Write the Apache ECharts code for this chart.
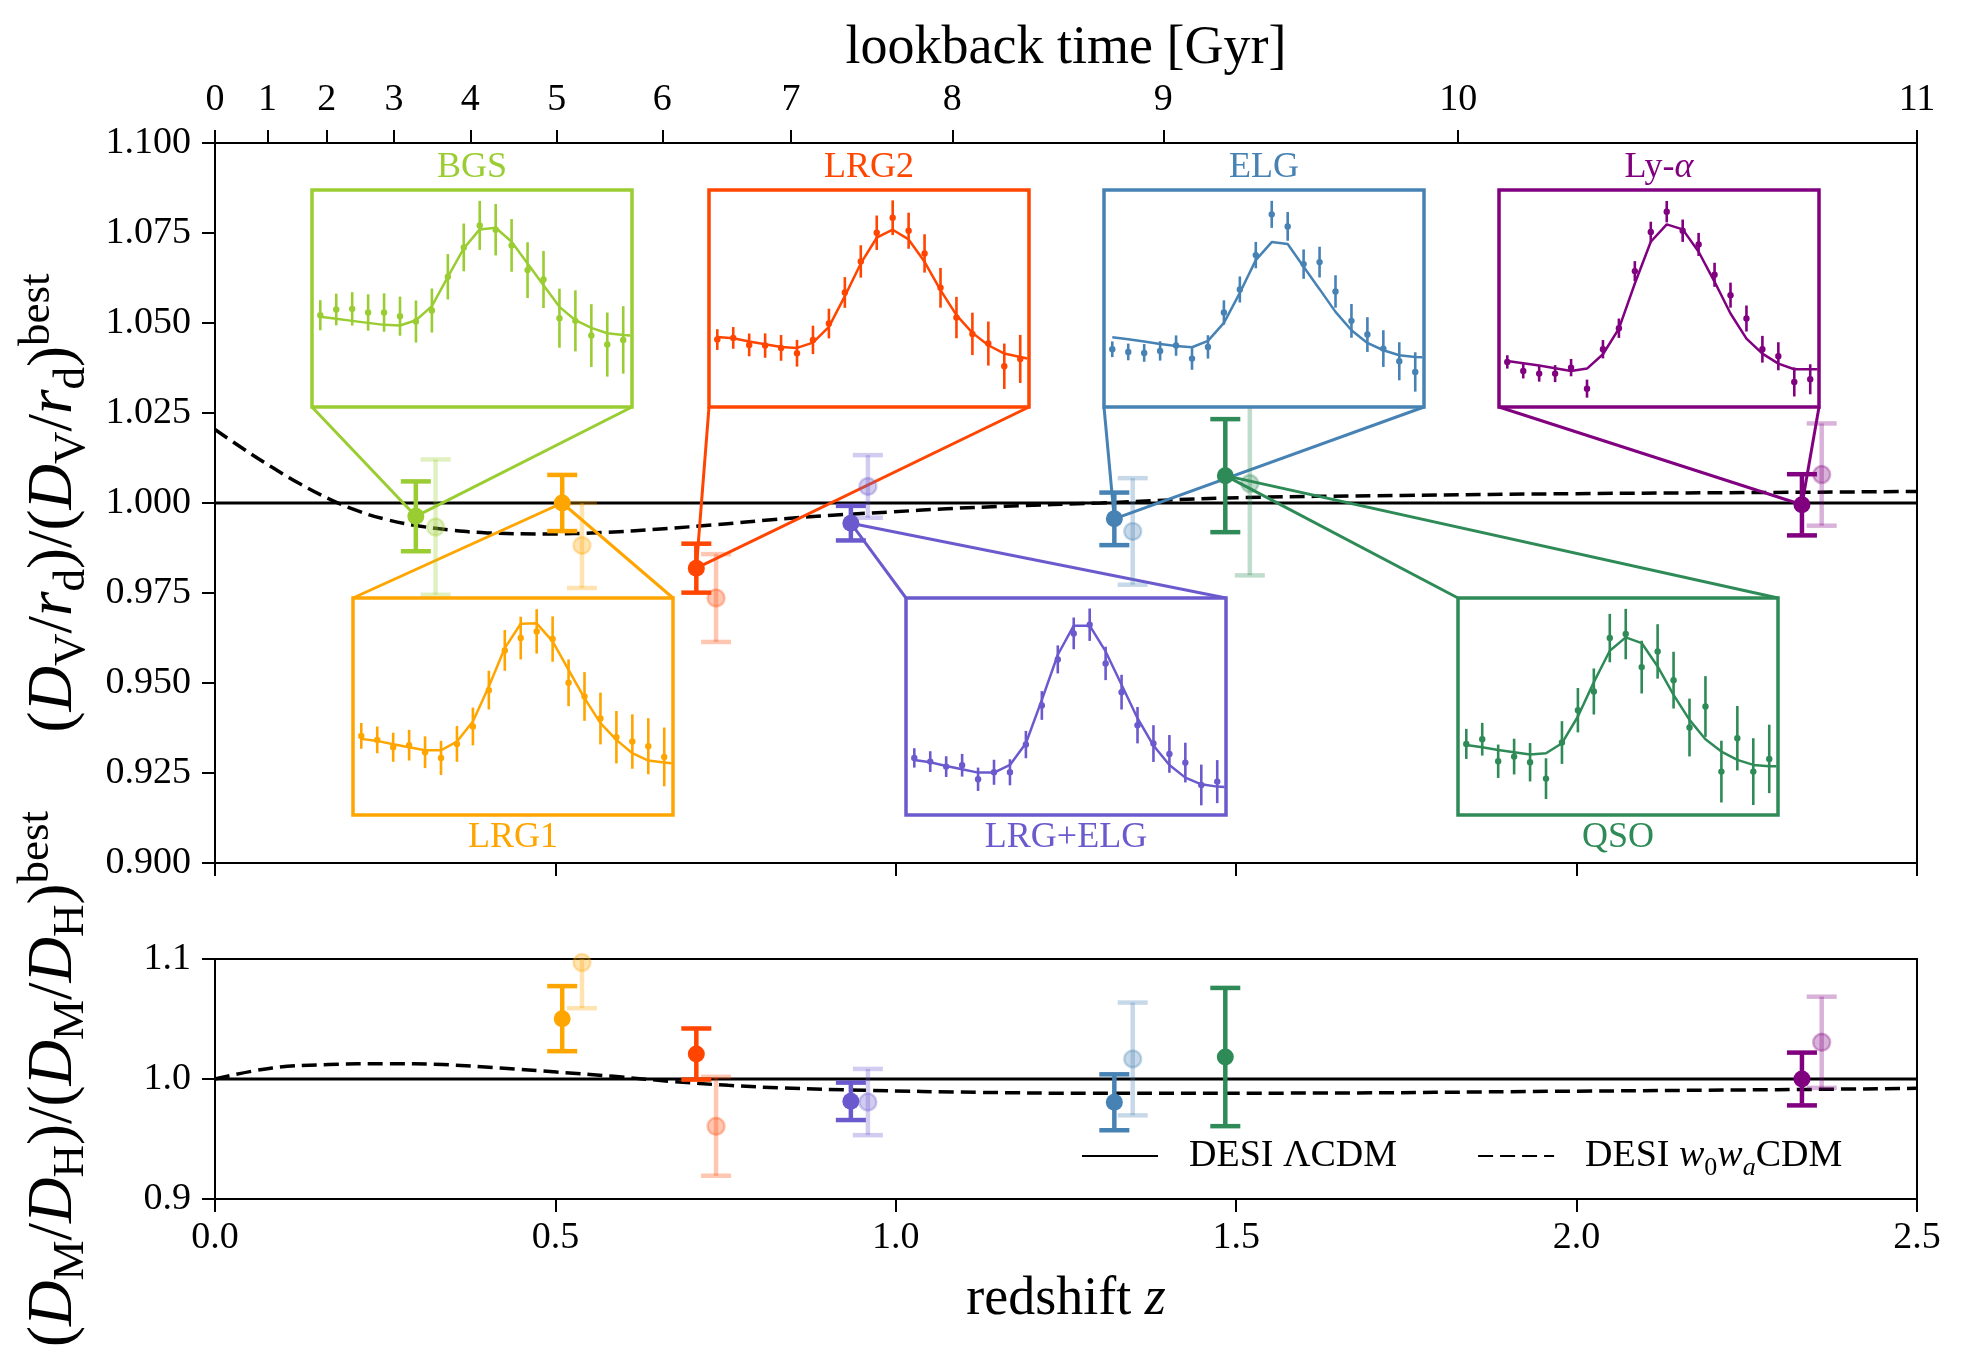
<!DOCTYPE html>
<html>
<head>
<meta charset="utf-8">
<script src="https://cdn.jsdelivr.net/npm/echarts@6/dist/echarts.min.js"></script>
<style>html,body{margin:0;padding:0;background:#fff}#c{width:1968px;height:1350px}</style>
</head>
<body>
<div id="c"></div>
<script>
// ---------------- DATA ----------------
const tracers = ['BGS', 'LRG1', 'LRG2', 'LRG+ELG', 'ELG', 'QSO', 'Ly-α'];
const tracerColors = ['#9acd32', '#ffa500', '#ff4500', '#6a5acd', '#4682b4', '#2e8b57', '#800080'];

// (D_V/r_d)/(D_V/r_d)^best — current measurements
const zEff = [0.295, 0.510, 0.707, 0.934, 1.321, 1.484, 2.331];
const dvRatio = [0.9963, 1.0000, 0.9819, 0.9944, 0.9956, 1.0076, 0.9995];
const dvErr = [0.0097, 0.0078, 0.0068, 0.0048, 0.0073, 0.0157, 0.0085];
// previous (faded) measurements
const zEffPrev = [0.324, 0.539, 0.736, 0.959, 1.348, 1.520, 2.360];
const dvRatioPrev = [0.9933, 0.9882, 0.9736, 1.0046, 0.9921, 1.0054, 1.0079];
const dvErrPrev = [0.0188, 0.0118, 0.0122, 0.0087, 0.0148, 0.0255, 0.0142];

// (D_M/D_H)/(D_M/D_H)^best
const fapRatio = [null, 1.0503, 1.0208, 0.9814, 0.9806, 1.0183, 1.0000];
const fapErr = [null, 0.0271, 0.0213, 0.0156, 0.0233, 0.0576, 0.0220];
const fapRatioPrev = [null, 1.0970, 0.9606, 0.9808, 1.0167, null, 1.0306];
const fapErrPrev = [null, 0.0380, 0.0412, 0.0276, 0.0470, null, 0.0380];

// DESI w0waCDM curves relative to DESI LCDM
const wCurveZ = [0, 0.042, 0.084, 0.126, 0.168, 0.210, 0.250, 0.300, 0.350, 0.400, 0.485, 0.569, 0.654, 0.738, 0.822, 0.907, 0.991, 1.075, 1.160, 1.301, 1.486, 1.744, 2.000, 2.260, 2.500];
const wCurveDV = [1.0204, 1.0150, 1.0099, 1.0052, 1.0011, 0.9978, 0.9955, 0.9936, 0.9924, 0.9917, 0.9914, 0.9918, 0.9928, 0.9940, 0.9954, 0.9966, 0.9975, 0.9984, 0.9991, 1.0000, 1.0014, 1.0021, 1.0026, 1.0029, 1.0032];
const wCurveFapZ = [0, 0.084, 0.167, 0.251, 0.335, 0.419, 0.502, 0.586, 0.670, 0.754, 0.837, 0.954, 1.122, 1.289, 1.624, 1.959, 2.294, 2.500];
const wCurveFap = [1.0000, 1.0092, 1.0120, 1.0128, 1.0120, 1.0092, 1.0058, 1.0022, 0.9980, 0.9947, 0.9925, 0.9906, 0.9889, 0.9881, 0.9883, 0.9897, 0.9911, 0.9922];

// top axis: lookback time ticks and their redshifts
const lookbackTicks = [0, 1, 2, 3, 4, 5, 6, 7, 8, 9, 10, 11];
const lookbackTickZ = [0, 0.077, 0.164, 0.263, 0.375, 0.502, 0.657, 0.846, 1.083, 1.393, 1.826, 2.5];

// inset correlation-function panels (bin index, arbitrary units)
const rBins = [0, 1, 2, 3, 4, 5, 6, 7, 8, 9, 10, 11, 12, 13, 14, 15, 16, 17, 18, 19];
const modelBins = [0, 1, 2, 3, 4, 5, 6, 7, 8, 9, 10, 11, 12, 13, 14, 15, 16, 17, 18, 19, 19.45];

const bgsXi = [27.5, 29.2, 29.4, 28.3, 28.3, 27.2, 25.6, 28.9, 39.0, 47.8, 54.4, 53.1, 48.4, 41.0, 38.2, 26.6, 25.8, 21.4, 18.7, 20.1];
const bgsXiErr = [4.5, 4.75, 5.0, 5.45, 5.75, 5.85, 6.3, 6.6, 6.8, 7.15, 7.35, 7.7, 7.9, 8.35, 8.55, 8.85, 9.15, 9.4, 9.6, 10.1];
const bgsModel = [27.0, 26.4, 25.8, 25.2, 24.6, 24.4, 26.0, 30.2, 39.0, 47.5, 53.2, 53.7, 49.5, 43.0, 36.5, 30.0, 26.0, 23.7, 22.1, 21.6, 21.4];

const lrg1Xi = [23.7, 22.5, 20.3, 20.9, 18.8, 17.1, 21.3, 26.5, 37.4, 49.3, 53.0, 55.0, 52.7, 39.6, 35.5, 28.9, 23.3, 22.0, 20.6, 17.4];
const lrg1XiErr = [3.85, 4.0, 4.35, 4.6, 4.75, 5.1, 5.35, 5.65, 5.8, 6.1, 6.4, 6.65, 6.8, 7.0, 7.3, 7.75, 7.85, 8.15, 8.4, 8.8];
const lrg1Model = [22.8, 22.2, 21.2, 20.3, 19.4, 19.4, 22.0, 28.0, 38.5, 50.0, 57.3, 57.4, 52.0, 43.5, 35.0, 27.5, 22.5, 18.5, 16.3, 15.7, 15.5];

const lrg2Xi = [20.2, 20.7, 18.6, 18.4, 17.7, 16.1, 20.1, 25.0, 34.3, 43.6, 52.2, 56.7, 52.8, 46.0, 35.7, 26.8, 21.9, 19.0, 12.2, 14.4];
const lrg2XiErr = [3.1, 3.25, 3.4, 3.65, 3.85, 4.0, 4.25, 4.45, 4.6, 4.85, 5.15, 5.2, 5.4, 5.75, 5.95, 6.2, 6.35, 6.6, 6.8, 7.2];
const lrg2Model = [21.0, 20.6, 19.6, 18.8, 18.0, 17.7, 19.3, 24.0, 33.2, 43.0, 50.7, 53.1, 50.2, 43.5, 35.0, 27.5, 22.2, 18.5, 16.0, 15.0, 14.5];

const lrgElgXi = [17.1, 16.0, 14.5, 14.9, 10.7, 12.8, 12.8, 21.1, 32.8, 46.6, 54.4, 57.0, 45.4, 36.8, 26.9, 21.4, 18.3, 15.7, 9.0, 10.0];
const lrgElgXiErr = [2.9, 3.1, 3.1, 3.4, 3.5, 3.75, 3.9, 4.1, 4.3, 4.2, 4.75, 4.85, 5.0, 5.2, 5.45, 5.5, 5.65, 5.95, 6.1, 6.45];
const lrgElgModel = [16.5, 15.8, 14.7, 13.7, 12.7, 12.7, 15.0, 21.5, 34.5, 48.0, 56.7, 56.7, 49.0, 39.0, 29.0, 20.8, 15.0, 11.2, 9.2, 8.5, 8.4];

const elgXi = [17.3, 16.5, 16.2, 16.8, 18.4, 14.5, 18.0, 28.3, 35.2, 45.5, 57.7, 54.1, 42.8, 43.4, 34.6, 25.8, 21.7, 17.5, 13.7, 10.5];
const elgXiErr = [2.35, 2.5, 2.65, 2.9, 3.05, 3.35, 3.5, 3.65, 3.9, 3.95, 4.05, 4.3, 4.4, 4.6, 4.85, 5.05, 5.2, 5.5, 5.7, 5.9];
const elgModel = [20.9, 20.3, 19.6, 18.9, 18.3, 17.9, 19.8, 25.2, 34.2, 44.0, 49.4, 48.8, 42.0, 35.3, 28.5, 23.0, 19.2, 17.0, 15.5, 15.0, 14.9];

const qsoXi = [21.3, 22.7, 16.1, 17.5, 15.8, 10.9, 21.7, 31.4, 37.0, 53.0, 54.2, 44.3, 49.0, 40.4, 26.2, 32.5, 13.0, 23.0, 13.0, 16.8];
const qsoXiErr = [4.5, 4.9, 5.0, 5.35, 5.75, 6.1, 6.4, 6.65, 6.9, 7.25, 7.55, 7.9, 8.15, 8.5, 8.65, 9.1, 9.25, 9.65, 10.0, 10.25];
const qsoModel = [21.0, 20.3, 19.5, 18.8, 18.1, 18.5, 21.5, 29.5, 39.8, 49.2, 53.2, 51.5, 44.5, 36.0, 28.5, 22.7, 19.0, 16.5, 15.0, 14.6, 14.6];

const lyaXi = [13.5, 10.8, 10.0, 10.0, 11.8, 5.5, 17.3, 23.6, 40.7, 52.4, 58.5, 52.8, 48.7, 39.6, 33.5, 26.5, 17.3, 15.2, 7.5, 8.3];
const lyaXiErr = [2.0, 2.25, 2.4, 2.55, 2.6, 2.7, 2.75, 2.9, 3.0, 3.1, 3.2, 3.35, 3.45, 3.6, 3.75, 3.9, 4.0, 4.2, 4.35, 4.5];
const lyaModel = [13.8, 13.1, 12.4, 11.6, 10.8, 11.5, 15.8, 23.5, 37.0, 49.5, 54.7, 53.2, 46.5, 37.5, 28.0, 20.5, 16.0, 13.0, 11.3, 11.3, 11.3];

// ---------------- LAYOUT / STYLE ----------------
const FONT = 'Liberation Serif';
const MAIN = {left: 215, top: 143, width: 1702, height: 720};
const LOWER = {left: 215, top: 959, width: 1702, height: 240};
const INSET_W = 320, INSET_H = 217;
const insetBoxes = [
  {left: 312, top: 190, row: 'top'},
  {left: 353, top: 598, row: 'bottom'},
  {left: 709, top: 190, row: 'top'},
  {left: 906, top: 598, row: 'bottom'},
  {left: 1104, top: 190, row: 'top'},
  {left: 1458, top: 598, row: 'bottom'},
  {left: 1499, top: 190, row: 'top'}
];
const insetSets = [
  {xi: bgsXi, err: bgsXiErr, model: bgsModel},
  {xi: lrg1Xi, err: lrg1XiErr, model: lrg1Model},
  {xi: lrg2Xi, err: lrg2XiErr, model: lrg2Model},
  {xi: lrgElgXi, err: lrgElgXiErr, model: lrgElgModel},
  {xi: elgXi, err: elgXiErr, model: elgModel},
  {xi: qsoXi, err: qsoXiErr, model: qsoModel},
  {xi: lyaXi, err: lyaXiErr, model: lyaModel}
];

function hexToRgba(hex, a) {
  const h = hex.replace('#', '');
  const r = parseInt(h.slice(0, 2), 16), g = parseInt(h.slice(2, 4), 16), b = parseInt(h.slice(4, 6), 16);
  return 'rgba(' + r + ',' + g + ',' + b + ',' + a + ')';
}

function errorBarRenderer(cfg) {
  return function (params, api) {
    const x = api.value(0), y = api.value(1), e = api.value(2);
    const color = api.visual('color');
    const cs = params.coordSys;
    const c = api.coord([x, y]);
    const yt = api.coord([x, y + e])[1];
    const yb = api.coord([x, y - e])[1];
    const topClip = cs.y, botClip = cs.y + cs.height;
    const stroke = hexToRgba(color, cfg.alpha);
    const children = [];
    children.push({type: 'line', shape: {x1: c[0], y1: Math.max(yt, topClip), x2: c[0], y2: Math.min(yb, botClip)},
      style: {stroke: stroke, lineWidth: cfg.lw}});
    if (cfg.cap) {
      if (yt >= topClip) children.push({type: 'line', shape: {x1: c[0] - cfg.cap, y1: yt, x2: c[0] + cfg.cap, y2: yt}, style: {stroke: stroke, lineWidth: cfg.lw}});
      if (yb <= botClip) children.push({type: 'line', shape: {x1: c[0] - cfg.cap, y1: yb, x2: c[0] + cfg.cap, y2: yb}, style: {stroke: stroke, lineWidth: cfg.lw}});
    }
    children.push({type: 'circle', shape: {cx: c[0], cy: c[1], r: cfg.r},
      style: {fill: hexToRgba(color, cfg.alpha), stroke: cfg.ring ? hexToRgba(color, cfg.alpha) : null, lineWidth: cfg.ring ? 2.5 : 0}});
    return {type: 'group', children: children};
  };
}

function connectorRenderer(params, api) {
  const i = api.value(2);
  const p = api.coord([api.value(0), api.value(1)]);
  const b = insetBoxes[i];
  const yEdge = b.row === 'top' ? b.top + INSET_H : b.top;
  const color = tracerColors[i];
  return {type: 'group', children: [
    {type: 'line', shape: {x1: b.left, y1: yEdge, x2: p[0], y2: p[1]}, style: {stroke: color, lineWidth: 3}},
    {type: 'line', shape: {x1: b.left + INSET_W, y1: yEdge, x2: p[0], y2: p[1]}, style: {stroke: color, lineWidth: 3}}
  ]};
}

function lookbackLabel(v) {
  let best = 0;
  for (let i = 0; i < lookbackTickZ.length; i++) {
    if (Math.abs(lookbackTickZ[i] - v) < Math.abs(lookbackTickZ[best] - v)) best = i;
  }
  return String(lookbackTicks[best]);
}

const axisLineStyle = {color: '#000', width: 2};
const tickLabel = {fontFamily: FONT, fontSize: 38, color: '#000'};
const yNameRich = {
  n: {fontFamily: FONT, fontSize: 63, lineHeight: 80, color: '#000'},
  i: {fontFamily: FONT, fontSize: 63, lineHeight: 80, fontStyle: 'italic', color: '#000'},
  s: {fontFamily: FONT, fontSize: 45, lineHeight: 45, verticalAlign: 'bottom', color: '#000'},
  u: {fontFamily: FONT, fontSize: 45, lineHeight: 45, verticalAlign: 'top', color: '#000'}
};

// ---------------- GRIDS & AXES ----------------
const grids = [
  {left: MAIN.left, top: MAIN.top, width: MAIN.width, height: MAIN.height, show: true, borderColor: '#000', borderWidth: 2, backgroundColor: 'transparent', outerBoundsMode: 'none', containLabel: false},
  {left: LOWER.left, top: LOWER.top, width: LOWER.width, height: LOWER.height, show: true, borderColor: '#000', borderWidth: 2, backgroundColor: 'transparent', outerBoundsMode: 'none', containLabel: false}
];
insetBoxes.forEach(function (b, i) {
  grids.push({left: b.left, top: b.top, width: INSET_W, height: INSET_H, show: true, backgroundColor: '#fff',
    borderColor: tracerColors[i], borderWidth: 3.5, z: 10, outerBoundsMode: 'none', containLabel: false});
});

const xAxes = [
  {type: 'value', gridIndex: 0, position: 'bottom', min: 0, max: 2.5, interval: 0.5,
    axisLine: {show: true, onZero: false, lineStyle: axisLineStyle},
    axisTick: {show: true, inside: false, length: 13, lineStyle: axisLineStyle},
    axisLabel: {show: false}, splitLine: {show: false}},
  {type: 'value', gridIndex: 0, position: 'top', min: 0, max: 2.5,
    axisLine: {show: true, onZero: false, lineStyle: axisLineStyle},
    axisTick: {show: true, inside: false, length: 13, lineStyle: axisLineStyle, customValues: lookbackTickZ},
    axisLabel: Object.assign({show: true, margin: 24, customValues: lookbackTickZ, formatter: lookbackLabel}, tickLabel),
    splitLine: {show: false},
    name: 'lookback time [Gyr]', nameLocation: 'middle', nameGap: 63,
    nameTextStyle: {fontFamily: FONT, fontSize: 54, color: '#000'}},
  {type: 'value', gridIndex: 1, position: 'bottom', min: 0, max: 2.5, interval: 0.5,
    axisLine: {show: true, onZero: false, lineStyle: axisLineStyle},
    axisTick: {show: true, inside: false, length: 13, lineStyle: axisLineStyle},
    axisLabel: Object.assign({show: true, margin: 20, formatter: function (v) { return v.toFixed(1); }}, tickLabel),
    splitLine: {show: false},
    name: '{n|redshift }{i|z}', nameLocation: 'middle', nameGap: 74,
    nameTextStyle: {fontFamily: FONT, fontSize: 54, color: '#000',
      rich: {n: {fontFamily: FONT, fontSize: 54, color: '#000'}, i: {fontFamily: FONT, fontSize: 54, fontStyle: 'italic', color: '#000'}}}}
];
const yAxes = [
  {type: 'value', gridIndex: 0, min: 0.9, max: 1.1, interval: 0.025,
    axisLine: {show: true, onZero: false, lineStyle: axisLineStyle},
    axisTick: {show: true, inside: false, length: 13, lineStyle: axisLineStyle},
    axisLabel: Object.assign({show: true, margin: 24, formatter: function (v) { return v.toFixed(3); }}, tickLabel),
    splitLine: {show: false},
    name: '{n|(}{i|D}{s|V}{n|/}{i|r}{s|d}{n|)/(}{i|D}{s|V}{n|/}{i|r}{s|d}{n|)}{u|best}',
    nameLocation: 'middle', nameGap: 112, nameRotate: 90,
    nameTextStyle: {fontFamily: FONT, fontSize: 63, color: '#000', rich: yNameRich}},
  {type: 'value', gridIndex: 1, min: 0.9, max: 1.1, interval: 0.1,
    axisLine: {show: true, onZero: false, lineStyle: axisLineStyle},
    axisTick: {show: true, inside: false, length: 13, lineStyle: axisLineStyle},
    axisLabel: Object.assign({show: true, margin: 24, formatter: function (v) { return v.toFixed(1); }}, tickLabel),
    splitLine: {show: false},
    name: '{n|(}{i|D}{s|M}{n|/}{i|D}{s|H}{n|)/(}{i|D}{s|M}{n|/}{i|D}{s|H}{n|)}{u|best}',
    nameLocation: 'middle', nameGap: 121, nameRotate: 90,
    nameTextStyle: {fontFamily: FONT, fontSize: 63, color: '#000', rich: yNameRich}}
];
insetBoxes.forEach(function (b, i) {
  xAxes.push({type: 'value', gridIndex: 2 + i, min: -0.52, max: 19.55, show: false, splitLine: {show: false}});
  yAxes.push({type: 'value', gridIndex: 2 + i, min: 0, max: 65, show: false, splitLine: {show: false}});
});

// ---------------- SERIES ----------------
function zip(xs, ys) { return xs.map(function (x, i) { return [x, ys[i]]; }); }
function errData(zs, vs, es) {
  const out = [];
  for (let i = 0; i < zs.length; i++) {
    if (vs[i] === null) continue;
    out.push({value: [zs[i], vs[i], es[i]], itemStyle: {color: tracerColors[i]}});
  }
  return out;
}

const LCDM = 'DESI ΛCDM', W0WA = 'DESI w0waCDM';
const hiddenSym = {color: '#000', opacity: 0};
const series = [
  {name: LCDM, type: 'line', xAxisIndex: 0, yAxisIndex: 0, data: [[0, 1], [2.5, 1]], symbol: 'none', z: 2,
    lineStyle: {color: '#000', width: 3.2, type: 'solid', opacity: 1}, itemStyle: hiddenSym},
  {name: W0WA, type: 'line', xAxisIndex: 0, yAxisIndex: 0, data: zip(wCurveZ, wCurveDV), symbol: 'none', smooth: 0.4, z: 2,
    lineStyle: {color: '#000', width: 3.5, type: [15, 7], opacity: 1}, itemStyle: hiddenSym},
  {name: LCDM, type: 'line', xAxisIndex: 2, yAxisIndex: 1, data: [[0, 1], [2.5, 1]], symbol: 'none', z: 2,
    lineStyle: {color: '#000', width: 3.2, type: 'solid', opacity: 1}, itemStyle: hiddenSym},
  {name: W0WA, type: 'line', xAxisIndex: 2, yAxisIndex: 1, data: zip(wCurveFapZ, wCurveFap), symbol: 'none', smooth: 0.4, z: 2,
    lineStyle: {color: '#000', width: 3.5, type: [15, 7], opacity: 1}, itemStyle: hiddenSym},
  {type: 'custom', name: 'connectors', xAxisIndex: 0, yAxisIndex: 0, z: 3,
    data: zEff.map(function (z, i) { return [z, dvRatio[i], i]; }), renderItem: connectorRenderer},
  {type: 'custom', name: 'dvPrev', xAxisIndex: 0, yAxisIndex: 0, z: 4,
    data: errData(zEffPrev, dvRatioPrev, dvErrPrev), renderItem: errorBarRenderer({alpha: 0.3, lw: 4.5, cap: 15, r: 8.5, ring: true})},
  {type: 'custom', name: 'dv', xAxisIndex: 0, yAxisIndex: 0, z: 5,
    data: errData(zEff, dvRatio, dvErr), renderItem: errorBarRenderer({alpha: 1, lw: 4.5, cap: 15, r: 8.5, ring: false})},
  {type: 'custom', name: 'fapPrev', xAxisIndex: 2, yAxisIndex: 1, z: 4,
    data: errData(zEffPrev, fapRatioPrev, fapErrPrev), renderItem: errorBarRenderer({alpha: 0.3, lw: 4.5, cap: 15, r: 8.5, ring: true})},
  {type: 'custom', name: 'fap', xAxisIndex: 2, yAxisIndex: 1, z: 5,
    data: errData(zEff, fapRatio, fapErr), renderItem: errorBarRenderer({alpha: 1, lw: 4.5, cap: 15, r: 8.5, ring: false})}
];
insetSets.forEach(function (set, i) {
  series.push({type: 'line', name: tracers[i] + ' model', xAxisIndex: 3 + i, yAxisIndex: 2 + i, z: 11,
    data: zip(modelBins, set.model), symbol: 'none', smooth: false,
    lineStyle: {color: tracerColors[i], width: 2.5}, itemStyle: {color: tracerColors[i]}});
  series.push({type: 'custom', name: tracers[i] + ' data', xAxisIndex: 3 + i, yAxisIndex: 2 + i, z: 12,
    data: rBins.map(function (r, j) { return {value: [r, set.xi[j], set.err[j]], itemStyle: {color: tracerColors[i]}}; }),
    renderItem: errorBarRenderer({alpha: 1, lw: 2.6, cap: 0, r: 3.2, ring: false})});
});

// inset titles
const graphics = insetBoxes.map(function (b, i) {
  const isLya = tracers[i] === 'Ly-α';
  const style = {
    text: isLya ? '{n|Ly-}{i|α}' : tracers[i],
    fill: tracerColors[i], fontFamily: FONT, fontSize: 36,
    align: 'center', verticalAlign: 'middle'
  };
  if (isLya) {
    style.rich = {
      n: {fill: tracerColors[i], fontFamily: FONT, fontSize: 36},
      i: {fill: tracerColors[i], fontFamily: FONT, fontSize: 36, fontStyle: 'italic'}
    };
  }
  return {type: 'text', z: 20, x: b.left + INSET_W / 2,
    y: b.row === 'top' ? b.top - 22 : b.top + INSET_H + 23, style: style};
});

const option = {
  animation: false,
  backgroundColor: '#fff',
  grid: grids,
  xAxis: xAxes,
  yAxis: yAxes,
  legend: {
    show: true, left: 1076, top: 1132, orient: 'horizontal',
    itemWidth: 76, itemHeight: 24, itemGap: 80, selectedMode: false,
    itemStyle: {opacity: 0},
    data: [LCDM, W0WA],
    formatter: function (name) {
      return name === LCDM ? '{p0|DESI ΛCDM}' : '{p0|DESI }{i|w}{s|0}{i|w}{si|a}{p|CDM}';
    },
    textStyle: {fontFamily: FONT, fontSize: 38, color: '#000', rich: {
      p0: {fontFamily: FONT, fontSize: 38, color: '#000', lineHeight: 50, padding: [0, 0, 0, 26]},
      p: {fontFamily: FONT, fontSize: 38, color: '#000', lineHeight: 50},
      i: {fontFamily: FONT, fontSize: 38, color: '#000', lineHeight: 50, fontStyle: 'italic'},
      s: {fontFamily: FONT, fontSize: 26, color: '#000', lineHeight: 26, verticalAlign: 'bottom'},
      si: {fontFamily: FONT, fontSize: 26, color: '#000', lineHeight: 26, verticalAlign: 'bottom', fontStyle: 'italic'}
    }}
  },
  graphic: graphics,
  series: series
};

const chart = echarts.init(document.getElementById('c'), null, {renderer: 'canvas'});
chart.setOption(option);
</script>
</body>
</html>
